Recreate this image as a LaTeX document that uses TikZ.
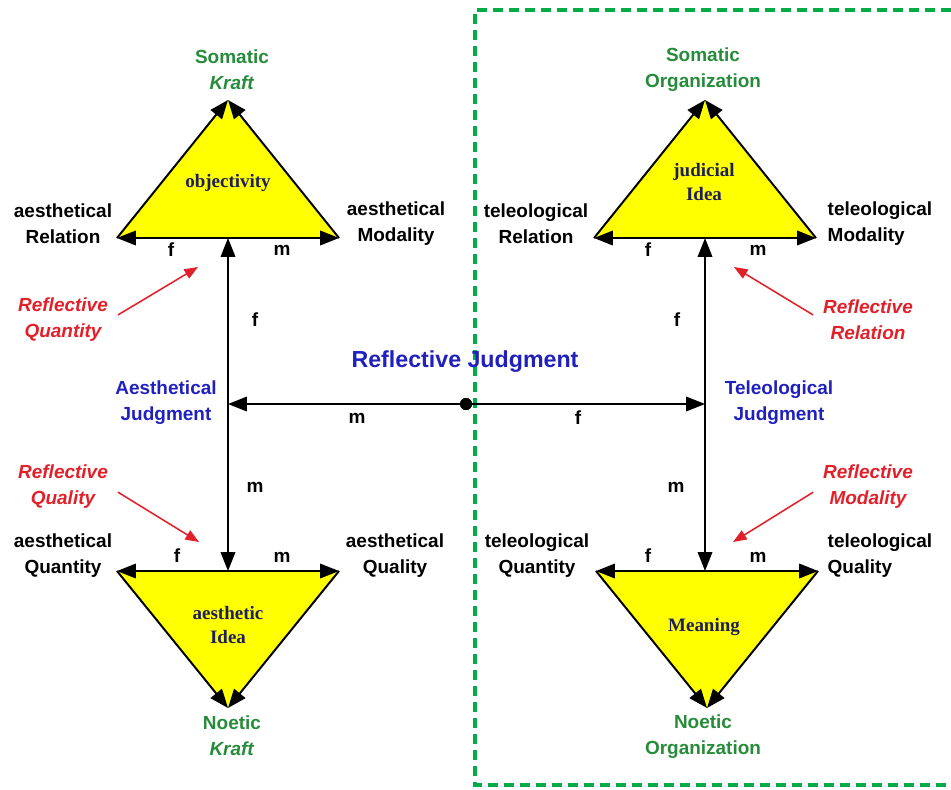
\documentclass[tikz,border=0pt]{standalone}
\usepackage{fontspec}
\setmainfont{Liberation Sans}
\newfontfamily\ideafont{Liberation Serif}
\usepackage{tikz}
\usetikzlibrary{arrows.meta,positioning,calc}
\usepackage{xcolor}

\definecolor{somagreen}{RGB}{38,140,58}
\definecolor{reflred}{RGB}{226,32,42}
\definecolor{judgeblue}{RGB}{32,32,190}
\definecolor{ideanavy}{RGB}{30,30,90}
\definecolor{boxgreen}{RGB}{0,172,72}
\definecolor{triyellow}{RGB}{255,255,0}

\tikzset{
    lbl/.style={font=\fontsize{13.5}{18.5}\selectfont\bfseries, align=center, inner sep=1pt},
    pole/.style={lbl, text=somagreen},
    refl/.style={lbl, text=reflred, font=\fontsize{13.5}{18.5}\selectfont\bfseries\itshape},
    judge/.style={lbl, text=judgeblue},
    idea/.style={font=\ideafont\fontsize{13.5}{17}\selectfont\bfseries, text=ideanavy, align=center},
    fm/.style={font=\fontsize{13.5}{15}\selectfont\bfseries, inner sep=0pt},
    arr/.style={-{Triangle[length=0.47cm,width=0.36cm]}, line width=1.4pt},
    redarr/.style={-{Triangle[length=0.34cm,width=0.26cm]}, draw=reflred, line width=1.1pt, shorten <=7pt},
}

\begin{document}
\begin{tikzpicture}[x=0.025cm, y=-0.025cm]
    \useasboundingbox (0,0) rectangle (951,789);

    % Dashed frame round the teleological half
    \draw[boxgreen, line width=2.8pt, dash pattern=on 0.25cm off 0.15cm]
        (951,10) -- (475,10) -- (475,785) -- (951,785);

    % Triangle corners: l = left, r = right, p = point, m = middle of base
    \coordinate (ta-l) at (117,238); \coordinate (ta-r) at (339,238);
    \coordinate (ta-p) at (228,100); \coordinate (ta-m) at (228,238);
    \coordinate (ba-l) at (117,571); \coordinate (ba-r) at (339,571);
    \coordinate (ba-p) at (228,708); \coordinate (ba-m) at (228,571);
    \coordinate (tt-l) at (594,238); \coordinate (tt-r) at (816,238);
    \coordinate (tt-p) at (705,100); \coordinate (tt-m) at (705,238);
    \coordinate (bt-l) at (596,571); \coordinate (bt-r) at (818,571);
    \coordinate (bt-p) at (707,708); \coordinate (bt-m) at (705,571);

    % Triangles
    \foreach \t in {ta,ba,tt,bt} {
        \fill[triyellow] (\t-l) -- (\t-p) -- (\t-r) -- cycle;
        \draw[arr] (\t-m) -- (\t-l);
        \draw[arr] (\t-m) -- (\t-r);
        \draw[arr] (\t-l) -- (\t-p);
        \draw[arr] (\t-r) -- (\t-p);
    }

    % Judgment cross
    \coordinate (aj) at (228,404);
    \coordinate (tj) at (705,404);
    \node[circle, fill=black, inner sep=0pt, minimum size=0.3cm] (hub) at (466,404) {};
    \draw[arr] (aj) -- (ta-m);
    \draw[arr] (aj) -- (ba-m);
    \draw[arr] (tj) -- (tt-m);
    \draw[arr] (tj) -- (bt-m);
    \draw[arr] (hub) -- (aj);
    \draw[arr] (hub) -- (tj);
    \fill (hub) circle (6);

    % Aesthetical side
    \node[pole] (skraft) at (232,70) {Somatic\\\textit{Kraft}};
    \node[idea] (obj) at (228,183) {objectivity};
    \node[lbl] (arel) at (63,224) {aesthetical\\Relation};
    \node[lbl] (amod) at (396,224) {aesthetical\\Modality};
    \node[fm] (af1) at (171,250) {f};
    \node[fm] (am1) at (282,250) {m};
    \node[refl] (rquan) at (63,320) {Reflective\\Quantity};
    \coordinate (rquan-tip) at (198,267);
    \draw[redarr] (rquan.east) -- (rquan-tip);
    \node[fm] (avf) at (255,320) {f};
    \node[judge] (ajud) at (166,403) {Aesthetical\\Judgment};
    \node[fm] (avm) at (255,487) {m};
    \node[refl] (rqual) at (63,487) {Reflective\\Quality};
    \coordinate (rqual-tip) at (199,542);
    \draw[redarr] (rqual.east) -- (rqual-tip);
    \node[lbl] (aquan) at (63,556) {aesthetical\\Quantity};
    \node[lbl] (aqual) at (395,556) {aesthetical\\Quality};
    \node[fm] (af2) at (177,556) {f};
    \node[fm] (am2) at (282,557) {m};
    \node[idea] (aidea) at (228,625) {aesthetic\\Idea};
    \node[pole] (nkraft) at (232,736) {Noetic\\\textit{Kraft}};

    % Middle
    \node[judge, font=\fontsize{16.5}{19}\selectfont\bfseries] (rjud) at (465,362) {Reflective Judgment};
    \node[fm] (hm) at (357,418) {m};
    \node[fm] (hf) at (578,418) {f};

    % Teleological side
    \node[pole] (sorg) at (703,70) {Somatic\\Organization};
    \node[idea] (jidea) at (704,182) {judicial\\Idea};
    \node[lbl] (trel) at (536,224) {teleological\\Relation};
    \node[lbl, align=left, anchor=west] (tmod) at (826,224) {teleological\\Modality};
    \node[fm] (tf1) at (648,250) {f};
    \node[fm] (tm1) at (758,250) {m};
    \node[refl] (rrel) at (868,320) {Reflective\\Relation};
    \coordinate (rrel-tip) at (734,267);
    \draw[redarr] (rrel.west) -- (rrel-tip);
    \node[fm] (tvf) at (677,320) {f};
    \node[judge] (tjud) at (779,403) {Teleological\\Judgment};
    \node[fm] (tvm) at (676,487) {m};
    \node[refl] (rmod) at (868,487) {Reflective\\Modality};
    \coordinate (rmod-tip) at (733,542);
    \draw[redarr] (rmod.west) -- (rmod-tip);
    \node[lbl] (tquan) at (537,556) {teleological\\Quantity};
    \node[lbl, align=left, anchor=west] (tqual) at (826,556) {teleological\\Quality};
    \node[fm] (tf2) at (648,556) {f};
    \node[fm] (tm2) at (758,557) {m};
    \node[idea] (mean) at (704,627) {Meaning};
    \node[pole] (norg) at (703,737) {Noetic\\Organization};
\end{tikzpicture}
\end{document}
